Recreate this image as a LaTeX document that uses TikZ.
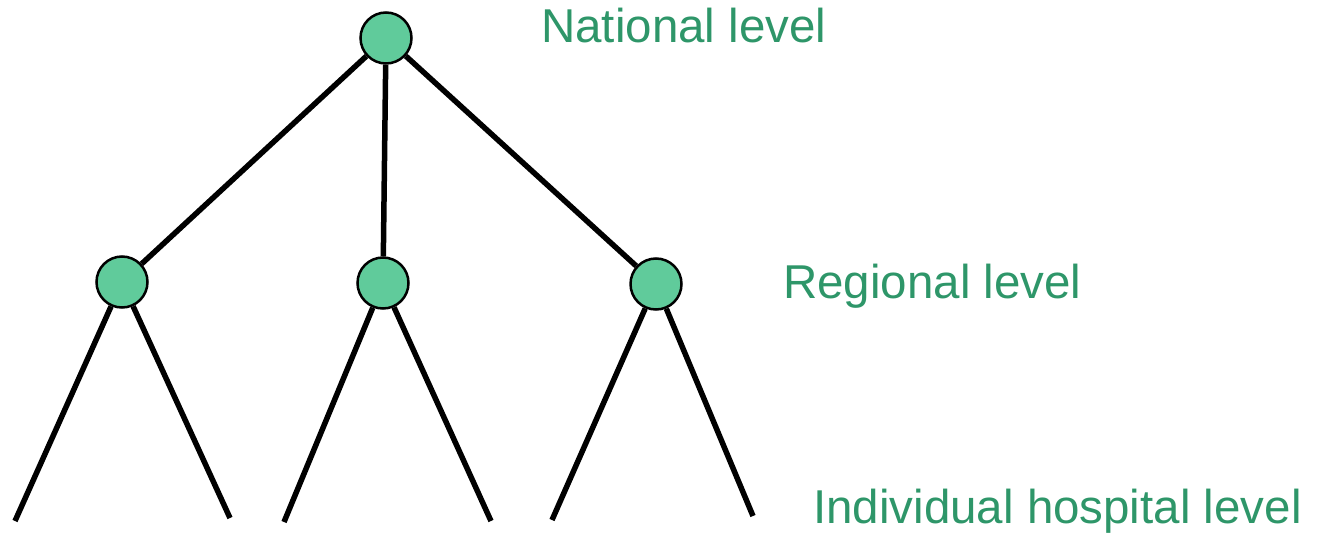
\documentclass[tikz,border=0pt]{standalone}
\usepackage{fontspec}
\setmainfont{Liberation Sans}
\usepackage{xcolor}
\definecolor{nodegreen}{RGB}{96,203,155}
\definecolor{textgreen}{RGB}{46,150,105}
\usetikzlibrary{positioning}

\tikzset{
  level/.style={circle,draw=black,line width=2.5pt,fill=nodegreen,minimum size=51pt,inner sep=0pt},
  branch/.style={line width=5.5pt},
  levellabel/.style={text=textgreen,font=\fontsize{47.5}{52}\selectfont,inner sep=0pt,anchor=base west}
}

\begin{document}
\begin{tikzpicture}[x=1pt,y=-1pt]
\useasboundingbox (0,0) rectangle (1317,535);

% tree nodes
\node[level] (nat) at (386,38) {};
\node[level] (regA) at (122,282) {};
\node[level] (regB) at (383,283) {};
\node[level] (regC) at (656,284) {};

% leaf ends
\coordinate (hA1) at (15,521);
\coordinate (hA2) at (230,518);
\coordinate (hB1) at (284,522);
\coordinate (hB2) at (491,521);
\coordinate (hC1) at (552,520);
\coordinate (hC2) at (753,516);

\draw[branch] (nat)--(regA);
\draw[branch] (nat)--(regB);
\draw[branch] (nat)--(regC);
\draw[branch] (regA)--(hA1);
\draw[branch] (regA)--(hA2);
\draw[branch] (regB)--(hB1);
\draw[branch] (regB)--(hB2);
\draw[branch] (regC)--(hC1);
\draw[branch] (regC)--(hC2);

% level labels
\node[levellabel] (natlab) at (541,43) {National level};
\node[levellabel] (reglab) at (783,298) {Regional level};
\node[levellabel] (hoslab) at (813,523) {Individual hospital level};
\end{tikzpicture}
\end{document}
